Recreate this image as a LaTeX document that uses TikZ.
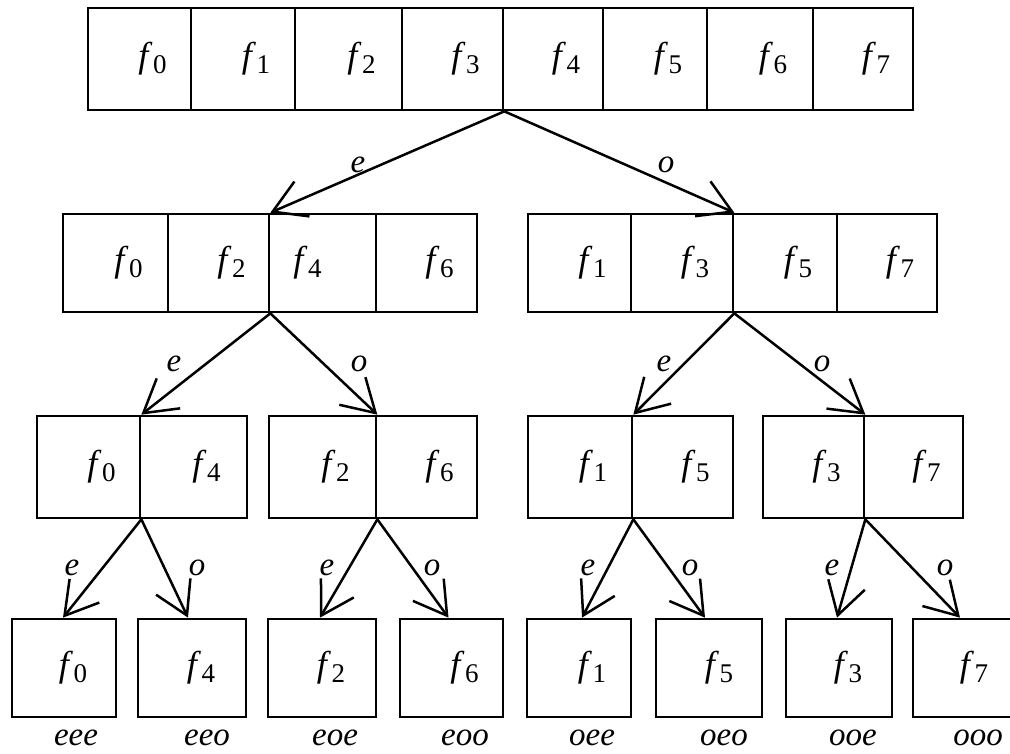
\documentclass[tikz,border=0pt]{standalone}
\usepackage{fontspec}
\setmainfont{Liberation Serif}
\usetikzlibrary{arrows.meta}
\newcommand\fsub[1]{\textit{f}\kern0.5pt\raisebox{-6pt}{\fontsize{27}{27}\selectfont #1}}
\newcommand\rlab[1]{\hspace*{26pt}\fsub{#1}}
\newcommand\llab[1]{\fsub{#1}\hspace*{30pt}}
\newcommand\cellnode[6]{\node[cell, minimum width={#3-#2}, minimum height={#5-#4}] (#1) at ({(#2+#3)/2},{(#4+#5)/2}) {#6};}
\begin{document}
\begin{tikzpicture}[x=1pt,y=-1pt,
  cell/.style={draw, line width=2.7pt, inner sep=0pt, font=\fontsize{36}{36}\selectfont},
  conn/.style={line width=2.5pt, -{Straight Barb[length=32pt,width=38pt]}},
  lab/.style={font=\fontsize{33}{33}\selectfont\itshape, inner sep=0pt}]
\useasboundingbox (0,0) rectangle (1010,753);
% level 1
\cellnode{t0}{88}{191}{8}{110}{\rlab{0}}
\cellnode{t1}{191}{295}{8}{110}{\rlab{1}}
\cellnode{t2}{295}{402}{8}{110}{\rlab{2}}
\cellnode{t3}{402}{503}{8}{110}{\rlab{3}}
\cellnode{t4}{503}{603}{8}{110}{\rlab{4}}
\cellnode{t5}{603}{707}{8}{110}{\rlab{5}}
\cellnode{t6}{707}{813}{8}{110}{\rlab{6}}
\cellnode{t7}{813}{913}{8}{110}{\rlab{7}}
% level 2
\cellnode{u0}{63}{168}{214}{312}{\rlab{0}}
\cellnode{u1}{168}{269}{214}{312}{\rlab{2}}
\cellnode{u2}{269}{376}{214}{312}{\llab{4}}
\cellnode{u3}{376}{477}{214}{312}{\rlab{6}}
\cellnode{v0}{528}{631}{214}{312}{\rlab{1}}
\cellnode{v1}{631}{733}{214}{312}{\rlab{3}}
\cellnode{v2}{733}{837}{214}{312}{\rlab{5}}
\cellnode{v3}{837}{937}{214}{312}{\rlab{7}}
% level 3
\cellnode{a0}{37}{140}{416}{518}{\rlab{0}}
\cellnode{a1}{140}{247}{416}{518}{\rlab{4}}
\cellnode{b0}{269}{376}{416}{518}{\rlab{2}}
\cellnode{b1}{376}{477}{416}{518}{\rlab{6}}
\cellnode{c0}{528}{632}{416}{518}{\rlab{1}}
\cellnode{c1}{632}{733}{416}{518}{\rlab{5}}
\cellnode{d0}{763}{864}{416}{518}{\rlab{3}}
\cellnode{d1}{864}{963}{416}{518}{\rlab{7}}
% level 4
\cellnode{w0}{12}{116}{619}{717}{\hspace*{18pt}\fsub{0}}
\cellnode{w1}{138}{246}{619}{717}{\hspace*{18pt}\fsub{4}}
\cellnode{w2}{268}{376}{619}{717}{\hspace*{18pt}\fsub{2}}
\cellnode{w3}{400}{503}{619}{717}{\rlab{6}}
\cellnode{w4}{527}{631}{619}{717}{\rlab{1}}
\cellnode{w5}{656}{762}{619}{717}{\hspace*{20pt}\fsub{5}}
\cellnode{w6}{786}{892}{619}{717}{\hspace*{18pt}\fsub{3}}
\cellnode{w7}{913}{1017}{619}{717}{\hspace*{18pt}\fsub{7}}
% connectors
\draw[conn] (t3.south east) -- (u1.north east);
\draw[conn] (t3.south east) -- (v1.north east);
\draw[conn] (u1.south east) -- (a0.north east);
\draw[conn] (u1.south east) -- (b0.north east);
\draw[conn] (v1.south east) -- (c0.north east);
\draw[conn] (v1.south east) -- (d0.north east);
\draw[conn] (a0.south east) -- ([xshift=-1pt]w0.north);
\draw[conn] (a0.south east) -- ([xshift=-4pt]w1.north);
\draw[conn] (b0.south east) -- ([xshift=-2pt]w2.north);
\draw[conn] (b0.south east) -- ([xshift=-3pt]w3.north);
\draw[conn] (c0.south east) -- ([xshift=3pt]w4.north);
\draw[conn] (c0.south east) -- ([xshift=-4pt]w5.north);
\draw[conn] (d0.south east) -- ([xshift=-2pt]w6.north);
\draw[conn] (d0.south east) -- ([xshift=-5pt]w7.north);
% edge labels
\node[lab] (l1e) at (358,165) {e};
\node[lab] (l1o) at (666,165) {o};
\node[lab] (l2e1) at (174,364) {e};
\node[lab] (l2o1) at (359,364) {o};
\node[lab] (l2e2) at (664,364) {e};
\node[lab] (l2o2) at (822,364) {o};
\node[lab] (l3e1) at (72,568) {e};
\node[lab] (l3o1) at (197,568) {o};
\node[lab] (l3e2) at (327,568) {e};
\node[lab] (l3o2) at (432,568) {o};
\node[lab] (l3e3) at (588,568) {e};
\node[lab] (l3o3) at (690,568) {o};
\node[lab] (l3e4) at (832,568) {e};
\node[lab] (l3o4) at (945,568) {o};
% path labels
\node[lab] (s0) at (76,738) {eee};
\node[lab] (s1) at (207,738) {eeo};
\node[lab] (s2) at (335,738) {eoe};
\node[lab] (s3) at (465,738) {eoo};
\node[lab] (s4) at (592,738) {oee};
\node[lab] (s5) at (724,738) {oeo};
\node[lab] (s6) at (853,738) {ooe};
\node[lab] (s7) at (978,738) {ooo};
\end{tikzpicture}
\end{document}
